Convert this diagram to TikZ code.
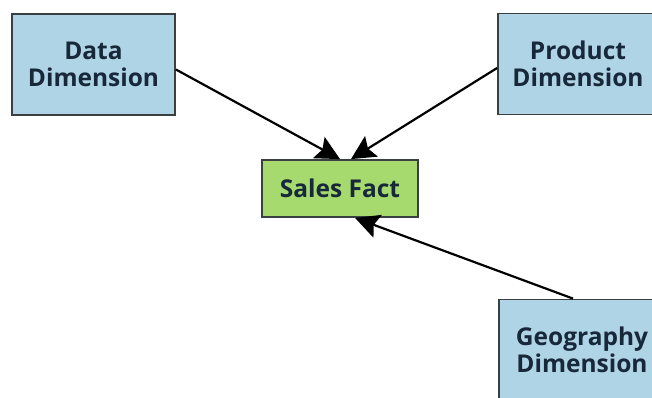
\documentclass[tikz,border=0pt]{standalone}
\usepackage{fontspec}
\setmainfont{Open Sans}
\usetikzlibrary{arrows.meta}
\definecolor{dimblue}{HTML}{AFD4E6}
\definecolor{factgreen}{HTML}{A6DA6E}
\definecolor{txt}{HTML}{17283A}
\definecolor{edge}{HTML}{3A3F42}
\begin{document}
\begin{tikzpicture}[x=1pt,y=-1pt,
  box/.style={draw=edge,line width=1.8pt,minimum width=#1,align=center,inner sep=0pt,font=\bfseries\fontsize{24.5}{27}\selectfont,text=txt},
  dim/.style={box=163pt,fill=dimblue,minimum height=101pt},
  fact/.style={box=156pt,fill=factgreen,minimum height=57pt},
  link/.style={line width=2.2pt,-{Stealth[length=24pt,width=24pt,inset=4pt]}}]
\useasboundingbox (0,0) rectangle (652,398);
\node[dim] (data) at (93.5,64.5) {Data\\Dimension};
\node[dim,minimum width=160pt] (prod) at (578,64) {Product\\Dimension};
\node[fact] (fact) at (340,188.5) {Sales Fact};
\node[dim,minimum width=166pt] (geo) at (582,350) {Geography\\Dimension};
\draw[link] (data.east) ++(0,5) coordinate (a1) -- (fact.north -| 340,0);
\draw[link] (prod.west) ++(0,4) coordinate (a2) -- (fact.north -| 351,0);
\draw[link] (geo.north) ++(-9,0) coordinate (a3) -- (fact.south -| 355,0);
\end{tikzpicture}
\end{document}
